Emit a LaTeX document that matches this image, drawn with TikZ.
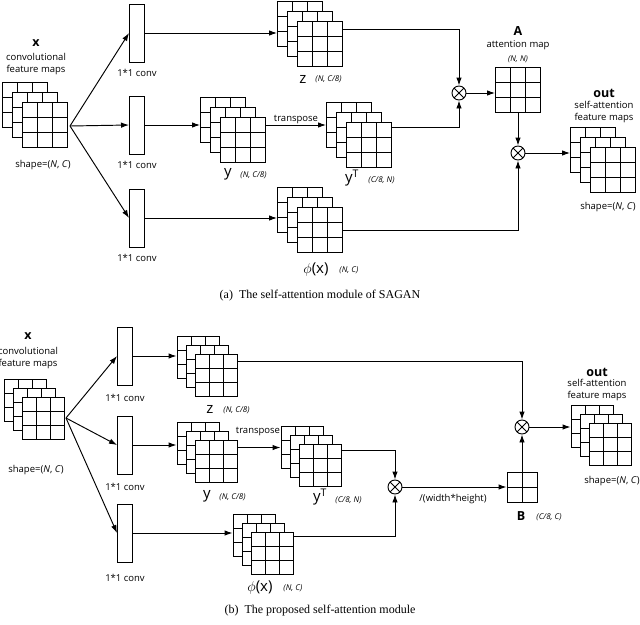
\documentclass[tikz,border=0pt]{standalone}
\usepackage{fontspec}
\setmainfont{Open Sans}
\newfontfamily\capfont{Liberation Serif}
\usetikzlibrary{arrows.meta,calc}
\newcommand\fmapx[5]{% name cx cy size offset
  \foreach \k in {2,1,0}{
    \pgfmathsetmacro\ox{#2-\k*#5}
    \pgfmathsetmacro\oy{#3-\k*#5}
    \pgfmathsetmacro\hh{#4/2}
    \begin{scope}[shift={(\ox,\oy)}]
      \fill[white] (-\hh,-\hh) rectangle (\hh,\hh);
      \draw (-\hh,-\hh) rectangle (\hh,\hh);
      \draw (-\hh/3,-\hh) -- (-\hh/3,\hh) (\hh/3,-\hh) -- (\hh/3,\hh)
            (-\hh,-\hh/3) -- (\hh,-\hh/3) (-\hh,\hh/3) -- (\hh,\hh/3);
    \end{scope}
  }
  \node[minimum size=#4pt,inner sep=0] (#1) at (#2,#3) {};
  \node[minimum size=#4pt,inner sep=0] (#1b) at ({#2-2*#5},{#3-2*#5}) {};
}
\begin{document}
\begin{tikzpicture}[x=1pt,y=-1pt,line width=0.95pt,
  >={Latex[length=8pt,width=5.5pt]},
  conv/.style={draw,fill=white,minimum width=15pt,minimum height=58pt,inner sep=0},
  ot/.style={draw,circle,minimum size=14pt,inner sep=0,path picture={\draw (path picture bounding box.north west)--(path picture bounding box.south east) (path picture bounding box.north east)--(path picture bounding box.south west);}},
  lab/.style={font=\fontsize{9.5}{11.5}\selectfont,inner sep=1pt,align=center},
  sm/.style={font=\fontsize{8}{9}\selectfont\itshape,inner sep=1pt},
  big/.style={font=\fontsize{15}{16}\selectfont,inner sep=1pt},
  bl/.style={font=\fontsize{12.5}{13}\selectfont\bfseries,inner sep=1pt},
  captxt/.style={font=\capfont\fontsize{12}{13}\selectfont}]
\useasboundingbox (0,0) rectangle (640,624);
% ===== (a) =====
\fmapx{x}{45}{125}{45}{10}
\node[bl] (xl) at (36,43) {x};
\node[lab] (xl2) at (36,64) {convolutional\\feature maps};
\node[lab] (xs) at (43,165) {shape=(\textit{N}, \textit{C})};
\coordinate (o) at (70,126);
\node[conv] (c1) at (137,33) {};
\node[conv] (c2) at (137,125) {};
\node[conv] (c3) at (137,218) {};
\node[lab] (c1l) at (137,73) {1*1 conv};
\node[lab] (c2l) at (137,165) {1*1 conv};
\node[lab] (c3l) at (137,258) {1*1 conv};
\draw[->] (o) -- (c1.west);
\draw[->] (o) -- (c2.west);
\draw[->] (o) -- (c3.west);
\fmapx{z}{320}{44}{45}{10}
\fmapx{y}{243}{140}{45}{10}
\fmapx{yT}{369}{145}{45}{10}
\fmapx{p}{320}{230}{45}{10}
\draw[->] (c1.east) -- (c1.east -| zb.west);
\draw[->] (c2.east) -- (c2.east -| yb.west);
\draw[->] (c3.east) -- (c3.east -| pb.west);
\draw[->] (y.east |- c2.east) -- node[lab,above] (tr) {transpose} (c2.east -| yTb.west);
\node[big] (zl) at (303,79) {z}; \node[sm,anchor=west] (zs) at (314,79) {(N, C/8)};
\node[big] (yl) at (228,174) {y}; \node[sm,anchor=west] (ys) at (239,175) {(N, C/8)};
\node[big] (yTl) at (352,178) {y$^{\mathrm{T}}$}; \node[sm,anchor=west] (yTs) at (367,180) {(C/8, N)};
\node[big] (pl) at (316,270) {$\phi$(x)}; \node[sm,anchor=west] (ps) at (338,270) {(N, C)};
\node[ot] (m1) at (459,93) {};
\node[draw,fill=white,minimum size=45pt,inner sep=0] (A) at (518,90) {};
\draw ($(A.north west)+(15,0)$) -- ($(A.south west)+(15,0)$) ($(A.north west)+(30,0)$) -- ($(A.south west)+(30,0)$)
      ($(A.north west)+(0,15)$) -- ($(A.north east)+(0,15)$) ($(A.north west)+(0,30)$) -- ($(A.north east)+(0,30)$);
\node[bl] (Al) at (518,31) {A};
\node[lab] (Al2) at (518,45) {attention map};
\node[sm] (As) at (518,59) {(N, N)};
\draw[->] ($(z.north east)+(0,8)$) -| (m1.north);
\draw[->] ($(yT.north east)+(0,5)$) -| (m1.south);
\draw[->] (m1.east) -- (m1.east -| A.west);
\node[ot] (m2) at (518,153) {};
\draw[->] (A.south) -- (m2.north);
\draw[->] (p.east) -| (m2.south);
\fmapx{out}{613}{170}{45}{10}
\draw[->] (m2.east) -- (m2.east -| outb.west);
\node[bl] (ol) at (604,93) {out};
\node[lab] (ol2) at (604,112) {self-attention\\feature maps};
\node[lab] (os) at (608,207) {shape=(\textit{N}, \textit{C})};
\node[captxt] (capa) at (320,296) {(a)\ \ The self-attention module of SAGAN};
% ===== (b) =====
\fmapx{X}{43}{418}{42}{9}
\node[bl] (Xl) at (28,336) {x};
\node[lab] (Xl2) at (28,358) {convolutional\\feature maps};
\node[lab] (Xs) at (36,470) {shape=(\textit{N}, \textit{C})};
\coordinate (O) at (66,418);
\node[conv] (d1) at (125,356) {};
\node[conv] (d2) at (125,445) {};
\node[conv] (d3) at (125,533) {};
\node[lab] (d1l) at (125,398) {1*1 conv};
\node[lab] (d2l) at (125,487) {1*1 conv};
\node[lab] (d3l) at (125,578) {1*1 conv};
\draw[->] (O) -- (d1.west);
\draw[->] (O) -- (d2.west);
\draw[->] (O) -- (d3.west);
\fmapx{Z}{216}{375}{42}{9}
\fmapx{Y}{216}{461}{42}{9}
\fmapx{YT}{320}{465}{42}{9}
\fmapx{P}{272}{553}{42}{9}
\draw[->] (d1.east) -- (d1.east -| Zb.west);
\draw[->] (d2.east) -- (d2.east -| Yb.west);
\draw[->] (d3.east) -- (d3.east -| Pb.west);
\coordinate (ty) at ($(Y.north east)+(0,8)$);
\draw[->] (ty) -- (ty -| YTb.west);
\node[lab] (tr2) at (258,432) {transpose};
\node[big] (Zl) at (210,409) {z}; \node[sm,anchor=west] (Zs) at (222,410) {(N, C/8)};
\node[big] (Yl) at (207,496) {y}; \node[sm,anchor=west] (Ys) at (218,497) {(N, C/8)};
\node[big] (YTl) at (320,497) {y$^{\mathrm{T}}$}; \node[sm,anchor=west] (YTs) at (334,500) {(C/8, N)};
\node[big] (Pl) at (260,588) {$\phi$(x)}; \node[sm,anchor=west] (Ps) at (282,588) {(N, C)};
\node[ot] (m3) at (395,487) {};
\draw[->] ($(YT.north east)+(0,7)$) -| (m3.north);
\draw[->] ($(P.north east)+(0,5)$) -| (m3.south);
\node[draw,fill=white,minimum size=30pt,inner sep=0] (B) at (522,487) {};
\draw (B.north) -- (B.south) (B.west) -- (B.east);
\draw[->] (m3.east) -- (B.west);
\node[lab] (wh) at (453,499) {/(width*height)};
\node[bl] (Bl) at (521,516) {B}; \node[sm,anchor=west] (Bs) at (535,517) {(C/8, C)};
\node[ot] (m4) at (522,427) {};
\draw[->] ($(Z.north east)+(0,8)$) -| (m4.north);
\draw[->] (B.north) -- (m4.south);
\fmapx{OUT}{610}{444}{42}{9}
\draw[->] (m4.east) -- (m4.east -| OUTb.west);
\node[bl] (Ol) at (597,372) {out};
\node[lab] (Ol2) at (597,390) {self-attention\\feature maps};
\node[lab] (Os) at (612,481) {shape=(\textit{N}, \textit{C})};
\node[captxt] (capb) at (320,611) {(b)\ \ The proposed self-attention module};
\end{tikzpicture}
\end{document}
